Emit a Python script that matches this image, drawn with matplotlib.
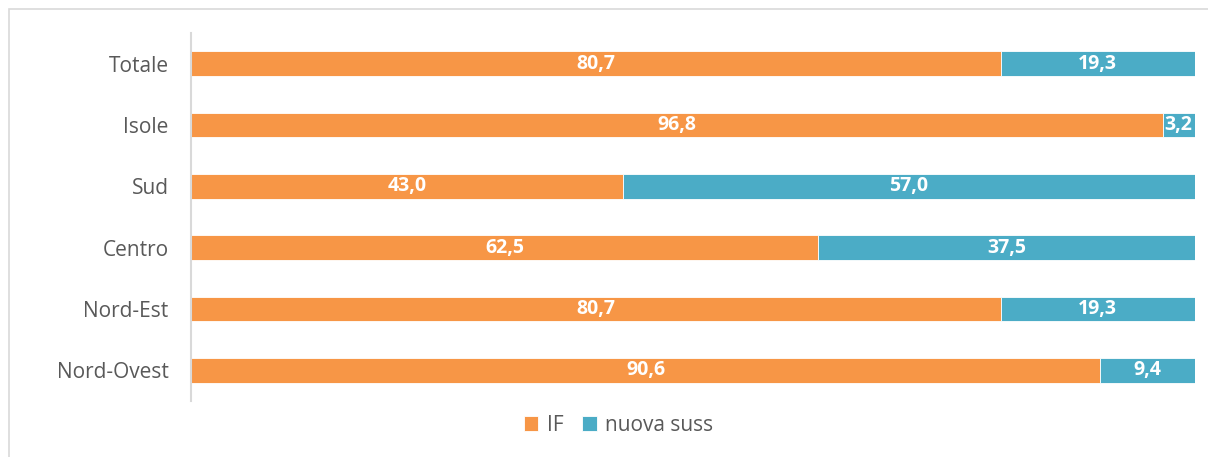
import numpy as np
import matplotlib.pyplot as plt
from matplotlib.patches import Rectangle

plt.rcParams['font.family'] = ['Open Sans', 'DejaVu Sans']

# data (bottom to top)
categories = ['Nord-Ovest', 'Nord-Est', 'Centro', 'Sud', 'Isole', 'Totale']
if_vals = [90.6, 80.7, 62.5, 43.0, 96.8, 80.7]
nuova_vals = [9.4, 19.3, 37.5, 57.0, 3.2, 19.3]
series_names = ['IF', 'nuova suss']

COL_IF = '#F79646'
COL_NS = '#4BACC6'
TEXT = '#595959'

fig = plt.figure(figsize=(12.08, 4.57), dpi=100, facecolor='white')
ax = fig.add_axes([0.158, 0.1225, 0.831, 0.8055])

y = np.arange(len(categories))
h = 0.4
b1 = ax.barh(y, if_vals, height=h, color=COL_IF, edgecolor='white',
             linewidth=0.6, label=series_names[0])
b2 = ax.barh(y, nuova_vals, left=if_vals, height=h, color=COL_NS,
             edgecolor='white', linewidth=0.6, label=series_names[1])

for bars in (b1, b2):
    labels = [f'{v:.1f}'.replace('.', ',') for v in bars.datavalues]
    ax.bar_label(bars, labels=labels, label_type='center', color='white',
                 fontsize=14, fontweight='bold')

ax.set_xlim(0, 100)
ax.set_ylim(-0.5, len(categories) - 0.5)
ax.set_yticks(y)
ax.set_yticklabels(categories, fontsize=15, color=TEXT)
ax.tick_params(axis='y', length=0, pad=16)
ax.set_xticks([])
for s in ('top', 'right', 'bottom'):
    ax.spines[s].set_visible(False)
ax.spines['left'].set_color('#D9D9D9')
ax.spines['left'].set_linewidth(1.5)

leg = fig.legend(handles=[b1, b2], labels=series_names, loc='center',
                 bbox_to_anchor=(0.512, 0.07), ncol=2, frameon=False,
                 fontsize=15, handlelength=0.7, handleheight=0.7,
                 handletextpad=0.4, columnspacing=0.9)
for t in leg.get_texts():
    t.set_color(TEXT)

# chart border (bottom/right edges fall outside the image)
fig.add_artist(Rectangle((9 / 1208, -0.05), 1.0, 1.05 - 9 / 457,
                         transform=fig.transFigure, fill=False,
                         edgecolor='#D9D9D9', linewidth=1.2))

fig.savefig('out.png', dpi=100, facecolor='white')
